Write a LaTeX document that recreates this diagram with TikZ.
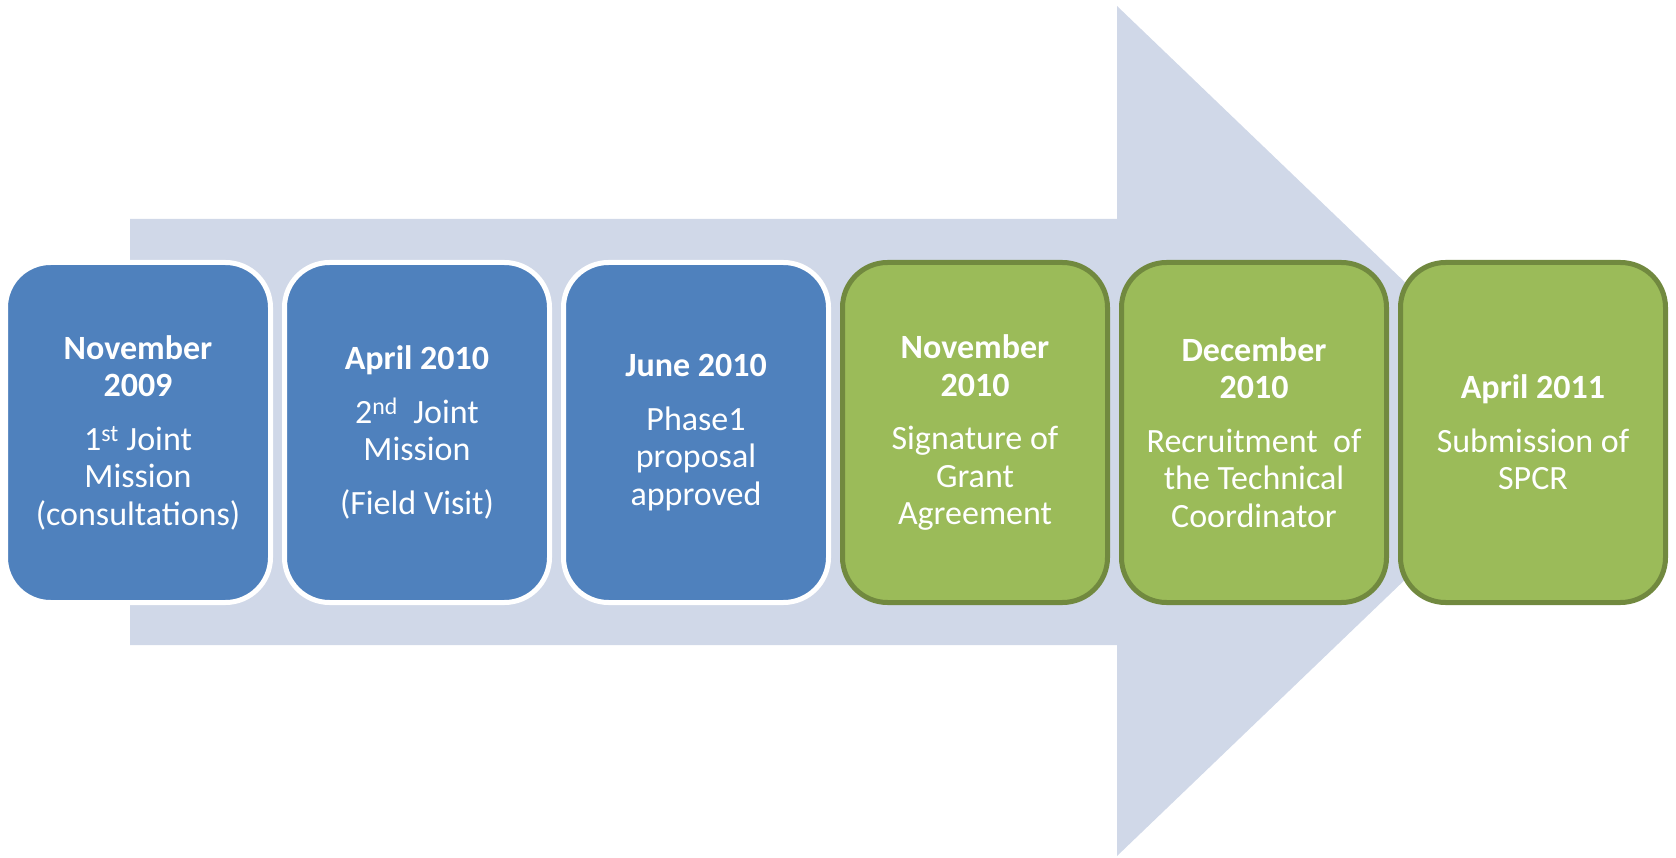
\documentclass[tikz,border=0pt]{standalone}
\usepackage{fontspec}
\setmainfont{Carlito}
\usetikzlibrary{positioning}

\definecolor{arrowfill}{HTML}{D0D8E8}
\definecolor{doneblue}{HTML}{4F81BD}
\definecolor{todogreen}{HTML}{9BBB59}
\definecolor{greenrim}{HTML}{71893F}

\begin{document}
\begin{tikzpicture}[x=1pt,y=-1pt,
		milestone/.style={rectangle, rounded corners=45pt, minimum width=265pt, minimum height=340pt,
			line width=5pt, inner sep=0pt, outer sep=0pt, text width=250pt, align=flush center,
			text=white, font=\fontsize{34}{37.5}\selectfont},
		bluebox/.style={milestone, fill=doneblue, draw=white},
		greenbox/.style={milestone, fill=todogreen, draw=greenrim}]
		\useasboundingbox (0,0) rectangle (1676,858);
		
		% Background arrow
		\fill[arrowfill] (130,219) -- (1117,219) -- (1117,6) -- (1560,431)
			-- (1117,856) -- (1117,645) -- (130,645) -- cycle;
		
		% Define milestones
		\node[bluebox] (nov09) at (138,432.5) {\textbf{November}\\\textbf{2009}\\[16pt]1\textsuperscript{st} Joint\\Mission\\(consultations)};
		\node[bluebox, right=14pt of nov09] (apr10) {\textbf{April 2010}\\[16pt]2\textsuperscript{nd}\ \ Joint\\Mission\\[16pt](Field Visit)};
		\node[bluebox, right=14pt of apr10] (jun10) {\textbf{June 2010}\\[16pt]Phase1\\proposal\\approved};
		\node[greenbox, right=14pt of jun10] (nov10) {\textbf{November}\\\textbf{2010}\\[16pt]Signature of\\Grant\\Agreement};
		\node[greenbox, right=14pt of nov10] (dec10) {\textbf{December}\\\textbf{2010}\\[16pt]Recruitment\ \ of\\the Technical\\Coordinator};
		\node[greenbox, right=14pt of dec10] (apr11) {\textbf{April 2011}\\[16pt]Submission of\\SPCR};
	\end{tikzpicture}
\end{document}
